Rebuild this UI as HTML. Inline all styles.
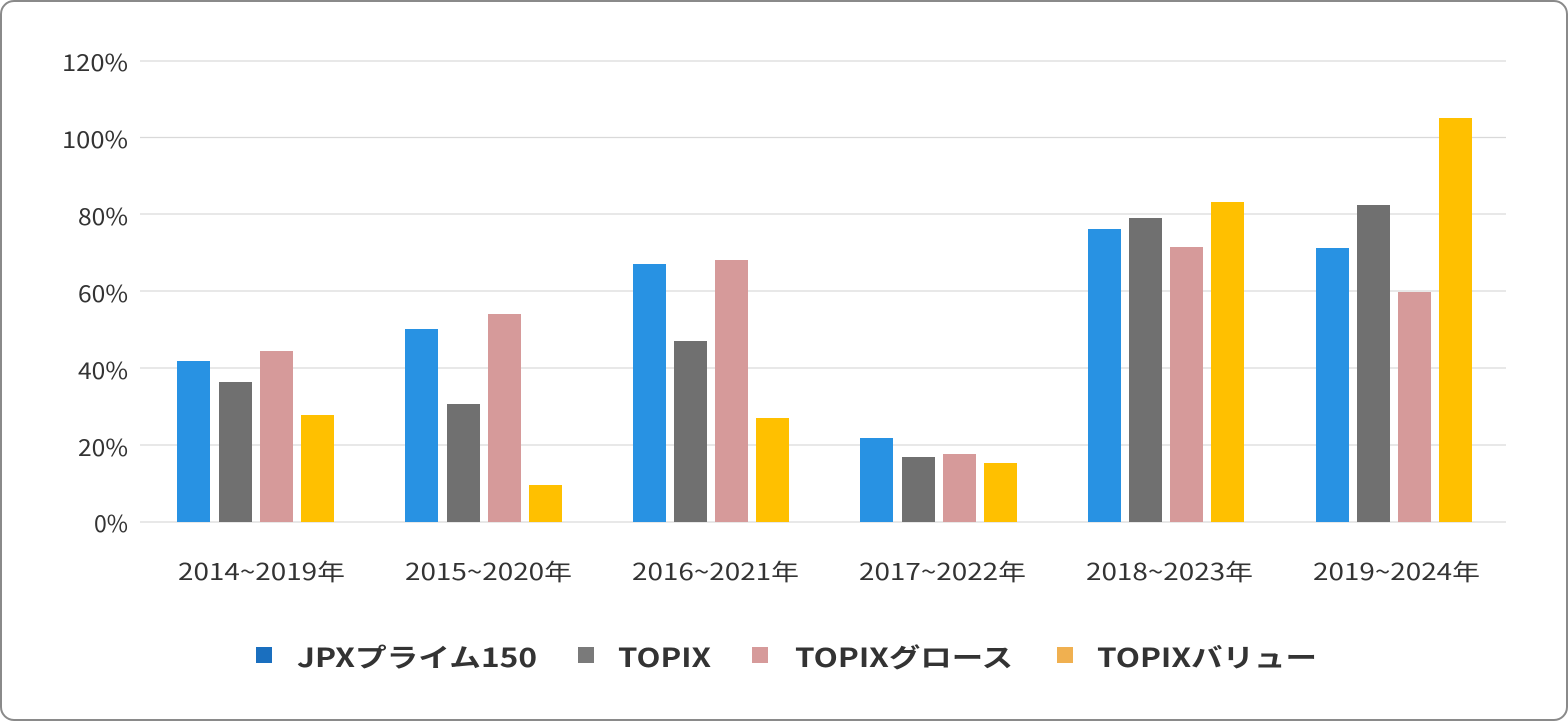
<!DOCTYPE html>
<html><head><meta charset="utf-8"><style>
html,body{margin:0;padding:0;background:#fff;}
svg{display:block;}
text{font-family:"Noto Sans CJK JP","Liberation Sans",sans-serif;fill:#333;}
</style></head><body>
<svg width="1568" height="721" viewBox="0 0 1568 721">
<rect x="1" y="1" width="1566" height="719" rx="13" fill="#fff" stroke="#8a8a8a" stroke-width="2"/>
<g stroke="#d9d9d9" stroke-width="1.2">
<line x1="140" y1="61" x2="1506" y2="61"/><line x1="140" y1="137.5" x2="1506" y2="137.5"/>
<line x1="140" y1="214" x2="1506" y2="214"/><line x1="140" y1="291" x2="1506" y2="291"/>
<line x1="140" y1="368" x2="1506" y2="368"/><line x1="140" y1="445" x2="1506" y2="445"/>
<line x1="140" y1="522" x2="1506" y2="522"/>
</g>
<g font-size="23">
<text x="62" y="71" textLength="66" lengthAdjust="spacingAndGlyphs">120%</text>
<text x="62" y="148" textLength="66" lengthAdjust="spacingAndGlyphs">100%</text>
<text x="78" y="225" textLength="50" lengthAdjust="spacingAndGlyphs">80%</text>
<text x="78" y="302" textLength="50" lengthAdjust="spacingAndGlyphs">60%</text>
<text x="78" y="379" textLength="50" lengthAdjust="spacingAndGlyphs">40%</text>
<text x="78" y="456" textLength="50" lengthAdjust="spacingAndGlyphs">20%</text>
<text x="94" y="532" textLength="34" lengthAdjust="spacingAndGlyphs">0%</text>
</g>
<g>
<rect x="177" y="361" width="33" height="161" fill="#2892E3"/><rect x="219" y="382" width="33" height="140" fill="#707070"/><rect x="260" y="351" width="33" height="171" fill="#D69A9A"/><rect x="301" y="415" width="33" height="107" fill="#FFC000"/>
<rect x="405" y="329" width="33" height="193" fill="#2892E3"/><rect x="447" y="404" width="33" height="118" fill="#707070"/><rect x="488" y="314" width="33" height="208" fill="#D69A9A"/><rect x="529" y="485" width="33" height="37" fill="#FFC000"/>
<rect x="633" y="264" width="33" height="258" fill="#2892E3"/><rect x="674" y="341" width="33" height="181" fill="#707070"/><rect x="715" y="260" width="33" height="262" fill="#D69A9A"/><rect x="756" y="418" width="33" height="104" fill="#FFC000"/>
<rect x="860" y="438" width="33" height="84" fill="#2892E3"/><rect x="902" y="457" width="33" height="65" fill="#707070"/><rect x="943" y="454" width="33" height="68" fill="#D69A9A"/><rect x="984" y="463" width="33" height="59" fill="#FFC000"/>
<rect x="1088" y="229" width="33" height="293" fill="#2892E3"/><rect x="1129" y="218" width="33" height="304" fill="#707070"/><rect x="1170" y="247" width="33" height="275" fill="#D69A9A"/><rect x="1211" y="202" width="33" height="320" fill="#FFC000"/>
<rect x="1316" y="248" width="33" height="274" fill="#2892E3"/><rect x="1357" y="205" width="33" height="317" fill="#707070"/><rect x="1398" y="292" width="33" height="230" fill="#D69A9A"/><rect x="1439" y="118" width="33" height="404" fill="#FFC000"/>
</g>
<g font-size="23">
<text x="178" y="580" textLength="167" lengthAdjust="spacingAndGlyphs">2014~2019年</text>
<text x="405" y="580" textLength="167" lengthAdjust="spacingAndGlyphs">2015~2020年</text>
<text x="632" y="580" textLength="167" lengthAdjust="spacingAndGlyphs">2016~2021年</text>
<text x="859" y="580" textLength="167" lengthAdjust="spacingAndGlyphs">2017~2022年</text>
<text x="1086" y="580" textLength="167" lengthAdjust="spacingAndGlyphs">2018~2023年</text>
<text x="1313" y="580" textLength="167" lengthAdjust="spacingAndGlyphs">2019~2024年</text>
</g>
<g font-size="26" font-weight="bold">
<rect x="256" y="647" width="16" height="16" fill="#1A6FBF"/><text x="297" y="667" textLength="240" lengthAdjust="spacingAndGlyphs">JPXプライム150</text>
<rect x="578" y="647" width="16" height="16" fill="#7a7a7a"/><text x="618" y="667" textLength="93" lengthAdjust="spacingAndGlyphs">TOPIX</text>
<rect x="752" y="647" width="16" height="16" fill="#D69A9A"/><text x="795" y="667" textLength="218" lengthAdjust="spacingAndGlyphs">TOPIXグロース</text>
<rect x="1057" y="647" width="16" height="16" fill="#F0B050"/><text x="1097" y="667" textLength="220" lengthAdjust="spacingAndGlyphs">TOPIXバリュー</text>
</g>
</svg>
</body></html>
